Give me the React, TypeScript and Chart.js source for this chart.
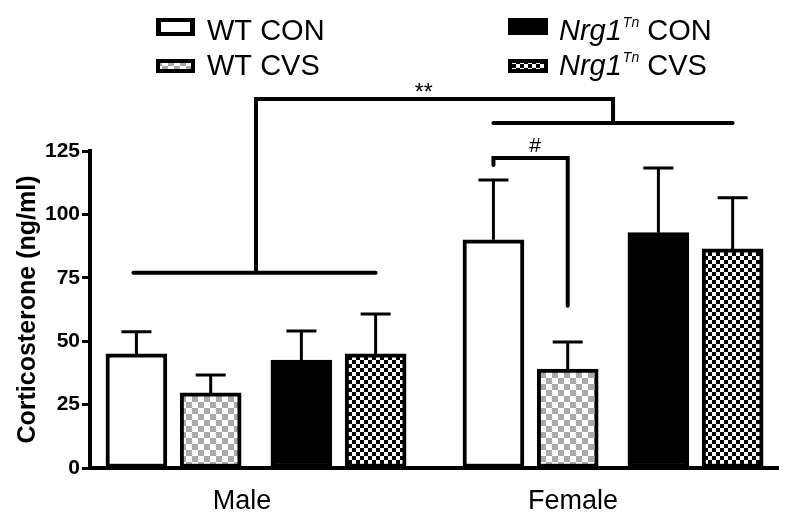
import React, { useEffect, useRef } from 'react';
import { Chart, registerables } from 'chart.js';

Chart.register(...registerables);

// ---------- data ----------
const groups = ['Male', 'Female'];
const seriesLabels = ['WT CON', 'WT CVS', 'Nrg1 CON', 'Nrg1 CVS'];
const wtCon = [45, 90];
const wtConErr = [8.7, 23.6];
const wtCvs = [29.6, 39];
const wtCvsErr = [7.1, 10.7];
const nrgCon = [42.6, 92.8];
const nrgConErr = [11.4, 25.5];
const nrgCvs = [45, 86.4];
const nrgCvsErr = [15.7, 20.2];
const yTicks = [0, 25, 50, 75, 100, 125];

// significance annotation levels (y values)
const maleLineY = 77;
const topBracketY = 145.5;
const femaleLineY = 136;
const hashBracketY = 122.2;
const hashTickEndY = 119.5;
const hashDropY = 64;

// ---------- layout ----------
const FONT = '"Liberation Sans", Arial, sans-serif';
const GROUP_POS = [1, 2];
const BAR_OFFSETS = [-0.335, -0.127, 0.127, 0.335];
const LABEL_POS = [0.961, 1.888];
const X_MIN = 0.535;
const X_MAX = 2.462;
const STAR_X = 1.47;
const HASH_X = 1.7815;

function checker(ctx: CanvasRenderingContext2D, cell: number, bg: string, fg: string) {
  const c = document.createElement('canvas');
  c.width = cell * 2;
  c.height = cell * 2;
  const x = c.getContext('2d')!;
  x.fillStyle = bg;
  x.fillRect(0, 0, cell * 2, cell * 2);
  x.fillStyle = fg;
  x.fillRect(0, 0, cell, cell);
  x.fillRect(cell, cell, cell, cell);
  return ctx.createPattern(c, 'repeat')!;
}

export default function App() {
  const ref = useRef<HTMLCanvasElement>(null);

  useEffect(() => {
    const canvas = ref.current!;
    const ctx0 = canvas.getContext('2d')!;
    const greyPat = checker(ctx0, 6, '#ffffff', '#a9a9a9');
    const bwPat = checker(ctx0, 4, '#ffffff', '#000000');
    const fills: any[] = ['#ffffff', greyPat, '#000000', bwPat];
    const values = [wtCon, wtCvs, nrgCon, nrgCvs];
    const errors = [wtConErr, wtCvsErr, nrgConErr, nrgCvsErr];

    const datasets = seriesLabels.map((label, i) => ({
      label,
      data: groups.map((_, g) => ({ x: GROUP_POS[g] + BAR_OFFSETS[i], y: values[i][g] })),
      backgroundColor: fills[i],
      borderColor: '#000000',
      borderWidth: 4,
      borderSkipped: false as any,
      barThickness: 61,
      grouped: false,
      errors: errors[i],
    }));

    const annot = {
      id: 'annot',
      afterDatasetsDraw(chart: any) {
        const ctx: CanvasRenderingContext2D = chart.ctx;
        const xs = chart.scales.x;
        const ys = chart.scales.y;
        ctx.save();
        ctx.strokeStyle = '#000';
        ctx.fillStyle = '#000';
        // error bars
        chart.data.datasets.forEach((ds: any, i: number) => {
          const meta = chart.getDatasetMeta(i);
          meta.data.forEach((bar: any, j: number) => {
            const v = ds.data[j].y;
            const top = ys.getPixelForValue(v + ds.errors[j]);
            ctx.lineWidth = 3;
            ctx.lineCap = 'butt';
            ctx.beginPath();
            ctx.moveTo(bar.x, bar.y);
            ctx.lineTo(bar.x, top);
            ctx.moveTo(bar.x - 15, top);
            ctx.lineTo(bar.x + 15, top);
            ctx.stroke();
          });
        });
        const bx = (i: number, g: number) => xs.getPixelForValue(GROUP_POS[g] + BAR_OFFSETS[i]);
        const gx = (g: number) => xs.getPixelForValue(GROUP_POS[g]);
        ctx.lineWidth = 4;
        ctx.lineJoin = 'miter';
        ctx.lineCap = 'round';
        // male line
        ctx.beginPath();
        ctx.moveTo(bx(0, 0) - 3, ys.getPixelForValue(maleLineY));
        ctx.lineTo(bx(3, 0), ys.getPixelForValue(maleLineY));
        ctx.stroke();
        // female line
        ctx.beginPath();
        ctx.moveTo(bx(0, 1), ys.getPixelForValue(femaleLineY));
        ctx.lineTo(bx(3, 1), ys.getPixelForValue(femaleLineY));
        ctx.stroke();
        // top bracket
        ctx.lineCap = 'butt';
        ctx.beginPath();
        ctx.moveTo(gx(0), ys.getPixelForValue(maleLineY));
        ctx.lineTo(gx(0), ys.getPixelForValue(topBracketY));
        ctx.lineTo(gx(1), ys.getPixelForValue(topBracketY));
        ctx.lineTo(gx(1), ys.getPixelForValue(femaleLineY));
        ctx.stroke();
        // hash bracket
        ctx.lineCap = 'round';
        ctx.beginPath();
        ctx.moveTo(bx(0, 1), ys.getPixelForValue(hashTickEndY));
        ctx.lineTo(bx(0, 1), ys.getPixelForValue(hashBracketY));
        ctx.lineTo(bx(1, 1), ys.getPixelForValue(hashBracketY));
        ctx.lineTo(bx(1, 1), ys.getPixelForValue(hashDropY));
        ctx.stroke();
        // texts
        ctx.textAlign = 'center';
        ctx.textBaseline = 'alphabetic';
        ctx.font = `23px ${FONT}`;
        ctx.fillText('**', xs.getPixelForValue(STAR_X), ys.getPixelForValue(topBracketY) + 1);
        ctx.font = `21px ${FONT}`;
        ctx.fillText('#', xs.getPixelForValue(HASH_X), ys.getPixelForValue(hashBracketY) - 6);

        // legend
        ctx.textAlign = 'left';
        // WT CON swatch
        ctx.fillStyle = '#000';
        ctx.fillRect(156, 18, 39, 18);
        ctx.fillStyle = '#fff';
        ctx.fillRect(161, 22, 29, 10);
        // WT CVS swatch
        ctx.fillStyle = '#000';
        ctx.fillRect(156, 59, 39, 14);
        ctx.fillStyle = greyPat;
        ctx.fillRect(160, 63, 31, 6);
        // Nrg1 CON swatch
        ctx.fillStyle = '#000';
        ctx.fillRect(508, 18, 40, 17);
        // Nrg1 CVS swatch
        ctx.fillStyle = '#000';
        ctx.fillRect(508, 59, 40, 14);
        ctx.fillStyle = bwPat;
        ctx.fillRect(512, 63, 32, 6);

        ctx.fillStyle = '#000';
        ctx.font = `29px ${FONT}`;
        ctx.fillText('WT CON', 207, 40);
        ctx.fillText('WT CVS', 207, 75);
        const rows = [
          { y: 40, tail: ' CON' },
          { y: 75, tail: ' CVS' },
        ];
        rows.forEach((r) => {
          let x = 559;
          ctx.font = `italic 29px ${FONT}`;
          ctx.fillText('Nrg1', x, r.y);
          x += ctx.measureText('Nrg1').width + 1;
          ctx.font = `italic 14px ${FONT}`;
          ctx.fillText('Tn', x, r.y - 13);
          x += ctx.measureText('Tn').width;
          ctx.font = `29px ${FONT}`;
          ctx.fillText(r.tail, x, r.y);
        });
        ctx.restore();
      },
    };

    const chart = new Chart(canvas, {
      type: 'bar',
      data: { datasets: datasets as any },
      options: {
        responsive: false,
        animation: false,
        devicePixelRatio: 1,
        layout: { padding: { top: 151, right: 17, left: 0, bottom: 0 } },
        plugins: { legend: { display: false }, tooltip: { enabled: false } },
        scales: {
          x: {
            type: 'linear',
            min: X_MIN,
            max: X_MAX,
            offset: false,
            grid: { display: false, drawTicks: false, offset: false },
            border: { display: true, color: '#000', width: 4 },
            afterBuildTicks: (scale: any) => {
              scale.ticks = LABEL_POS.map((v) => ({ value: v }));
            },
            ticks: {
              autoSkip: false,
              maxRotation: 0,
              callback: (_v: any, i: number) => groups[i],
              font: { size: 27, family: FONT },
              color: '#000',
              padding: 17,
            },
            afterFit: (scale: any) => {
              scale.height = 58;
            },
          },
          y: {
            min: 0,
            max: 125,
            afterBuildTicks: (scale: any) => {
              scale.ticks = yTicks.map((v) => ({ value: v }));
            },
            grid: {
              display: true,
              drawOnChartArea: false,
              drawTicks: true,
              tickLength: 8,
              tickWidth: 3,
              tickColor: '#000',
            },
            border: { display: true, color: '#000', width: 4 },
            ticks: {
              font: { size: 21, weight: 'bold', family: FONT },
              color: '#000',
              padding: 2,
            },
            title: {
              display: true,
              text: 'Corticosterone (ng/ml)',
              font: { size: 25, weight: 'bold', family: FONT },
              color: '#000',
              padding: { top: 13, bottom: 0 },
            },
            afterFit: (scale: any) => {
              scale.width = 90;
            },
          },
        },
      },
      plugins: [annot],
    });
    return () => chart.destroy();
  }, []);

  return (
    <div style={{ position: 'fixed', left: 0, top: 0, width: 795, height: 526, background: '#fff' }}>
      <canvas ref={ref} width={795} height={526} style={{ display: 'block' }} />
    </div>
  );
}
